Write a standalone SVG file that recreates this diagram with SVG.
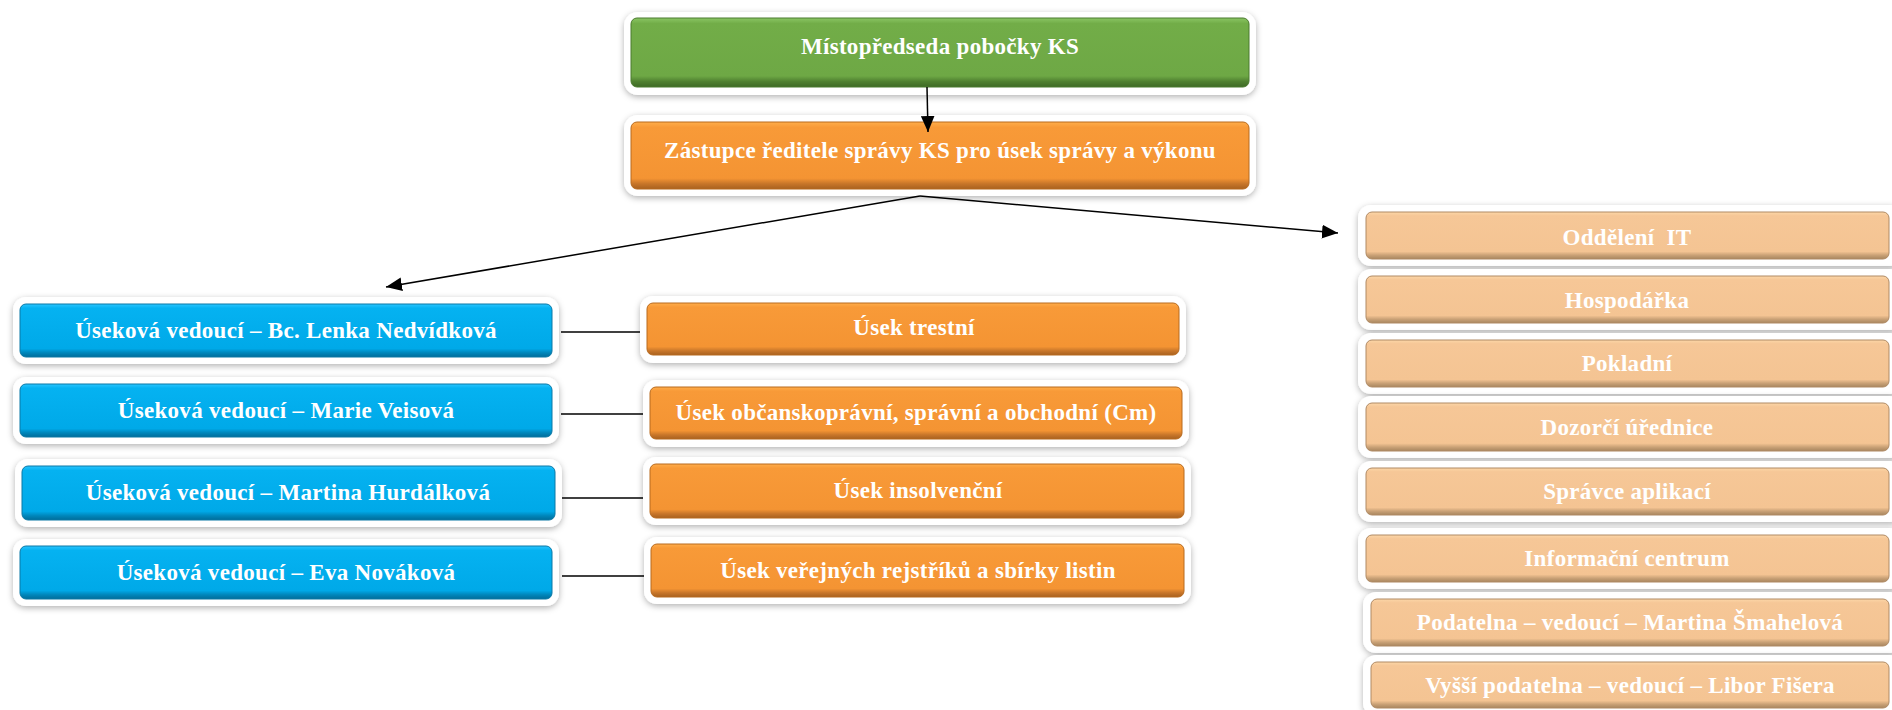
<svg xmlns="http://www.w3.org/2000/svg" width="1892" height="710" viewBox="0 0 1892 710">
<style>
text{font-family:"Liberation Serif","Times New Roman",serif;font-weight:bold;font-size:23px;fill:#ffffff;text-anchor:middle;letter-spacing:0.3px}
.frame{fill:#ffffff;filter:url(#sh)}
.g{fill:url(#gg);stroke:#4a7a2e;stroke-width:1}
.o{fill:url(#go);stroke:#b86a1e;stroke-width:1}
.b{fill:url(#gb);stroke:#0a78a6;stroke-width:1}
.l{fill:url(#gl);stroke:#b08a64;stroke-width:1}
.con{stroke:#000;stroke-width:1.5;fill:none}
</style>
<defs>
<filter id="sh" x="-10%" y="-30%" width="120%" height="170%">
<feDropShadow dx="0" dy="2" stdDeviation="3" flood-color="#000" flood-opacity="0.3"/>
</filter>
<linearGradient id="gg" x1="0" y1="0" x2="0" y2="1">
<stop offset="0" stop-color="#8ac564"/><stop offset="0.08" stop-color="#72ad48"/><stop offset="0.84" stop-color="#6ea845"/><stop offset="0.92" stop-color="#4f8030"/><stop offset="1" stop-color="#3e6a25"/>
</linearGradient>
<linearGradient id="go" x1="0" y1="0" x2="0" y2="1">
<stop offset="0" stop-color="#ffad4a"/><stop offset="0.08" stop-color="#f89a38"/><stop offset="0.84" stop-color="#f49433"/><stop offset="0.92" stop-color="#c8762a"/><stop offset="1" stop-color="#a8611f"/>
</linearGradient>
<linearGradient id="gb" x1="0" y1="0" x2="0" y2="1">
<stop offset="0" stop-color="#2ac5ff"/><stop offset="0.08" stop-color="#05b2f1"/><stop offset="0.84" stop-color="#00a9e8"/><stop offset="0.92" stop-color="#0086bb"/><stop offset="1" stop-color="#006d9a"/>
</linearGradient>
<linearGradient id="gl" x1="0" y1="0" x2="0" y2="1">
<stop offset="0" stop-color="#fcd7a8"/><stop offset="0.08" stop-color="#f6c797"/><stop offset="0.84" stop-color="#f4c493"/><stop offset="0.92" stop-color="#c9a176"/><stop offset="1" stop-color="#a8865f"/>
</linearGradient>
<marker id="arrL" viewBox="0 0 14 12" refX="14" refY="6" markerWidth="16" markerHeight="14" markerUnits="userSpaceOnUse" orient="auto">
<path d="M0,0 L14,6 L0,12 z" fill="#000"/>
</marker>
</defs>

<g id="n-mistopredseda">
<rect class="frame" x="624" y="12" width="632" height="83" rx="14"/>
<rect class="g" x="631" y="18" width="618" height="69" rx="6"/>
<text x="940" y="54">Místopředseda pobočky KS</text>
</g>
<g id="n-zastupce">
<rect class="frame" x="624" y="115" width="632" height="81" rx="14"/>
<rect class="o" x="631" y="122" width="618" height="67" rx="6"/>
<text x="940" y="158">Zástupce ředitele správy KS pro úsek správy a výkonu</text>
</g>

<g id="n-b1"><rect class="frame" x="13" y="297" width="546" height="67" rx="13"/><rect class="b" x="20" y="304" width="532" height="53" rx="6"/><text x="286" y="338">Úseková vedoucí – Bc. Lenka Nedvídková</text></g>
<g id="n-b2"><rect class="frame" x="13" y="377" width="546" height="67" rx="13"/><rect class="b" x="20" y="384" width="532" height="53" rx="6"/><text x="286" y="418">Úseková vedoucí – Marie Veisová</text></g>
<g id="n-b3"><rect class="frame" x="15" y="459" width="547" height="68" rx="13"/><rect class="b" x="22" y="466" width="533" height="54" rx="6"/><text x="288" y="500">Úseková vedoucí – Martina Hurdálková</text></g>
<g id="n-b4"><rect class="frame" x="13" y="539" width="546" height="67" rx="13"/><rect class="b" x="20" y="546" width="532" height="53" rx="6"/><text x="286" y="580">Úseková vedoucí – Eva Nováková</text></g>

<g id="n-o1"><rect class="frame" x="640" y="296" width="546" height="67" rx="13"/><rect class="o" x="647" y="303" width="532" height="52" rx="6"/><text x="914" y="335">Úsek trestní</text></g>
<g id="n-o2"><rect class="frame" x="643" y="380" width="546" height="67" rx="13"/><rect class="o" x="650" y="387" width="532" height="52" rx="6"/><text x="916" y="420">Úsek občanskoprávní, správní a obchodní (Cm)</text></g>
<g id="n-o3"><rect class="frame" x="643" y="457" width="548" height="68" rx="13"/><rect class="o" x="650" y="464" width="534" height="54" rx="6"/><text x="918" y="498">Úsek insolvenční</text></g>
<g id="n-o4"><rect class="frame" x="644" y="537" width="547" height="67" rx="13"/><rect class="o" x="651" y="544" width="533" height="53" rx="6"/><text x="918" y="578">Úsek veřejných rejstříků a sbírky listin</text></g>

<g id="n-r1"><rect class="frame" x="1358" y="205" width="545" height="61" rx="13"/><rect class="l" x="1366" y="212" width="523" height="47" rx="6"/><text x="1627" y="245">Oddělení&#160; IT</text></g>
<g id="n-r2"><rect class="frame" x="1358" y="269" width="545" height="61" rx="13"/><rect class="l" x="1366" y="276" width="523" height="47" rx="6"/><text x="1627" y="308">Hospodářka</text></g>
<g id="n-r3"><rect class="frame" x="1358" y="333" width="545" height="61" rx="13"/><rect class="l" x="1366" y="340" width="523" height="47" rx="6"/><text x="1627" y="371">Pokladní</text></g>
<g id="n-r4"><rect class="frame" x="1358" y="396" width="545" height="62" rx="13"/><rect class="l" x="1366" y="403" width="523" height="48" rx="6"/><text x="1627" y="435">Dozorčí úřednice</text></g>
<g id="n-r5"><rect class="frame" x="1358" y="461" width="545" height="61" rx="13"/><rect class="l" x="1366" y="468" width="523" height="47" rx="6"/><text x="1627" y="499">Správce aplikací</text></g>
<g id="n-r6"><rect class="frame" x="1358" y="528" width="545" height="61" rx="13"/><rect class="l" x="1366" y="535" width="523" height="47" rx="6"/><text x="1627" y="566">Informační centrum</text></g>
<g id="n-r7"><rect class="frame" x="1363" y="592" width="540" height="61" rx="13"/><rect class="l" x="1371" y="599" width="518" height="47" rx="6"/><text x="1630" y="630">Podatelna – vedoucí – Martina Šmahelová</text></g>
<g id="n-r8"><rect class="frame" x="1363" y="655" width="540" height="61" rx="13"/><rect class="l" x="1371" y="662" width="518" height="46" rx="6"/><text x="1630" y="693">Vyšší podatelna – vedoucí – Libor Fišera</text></g>

<g id="connectors">
<line class="con" x1="927" y1="87" x2="928" y2="132" marker-end="url(#arrL)"/>
<line class="con" x1="920" y1="196" x2="386" y2="287" marker-end="url(#arrL)"/>
<line class="con" x1="920" y1="196" x2="1338" y2="233" marker-end="url(#arrL)"/>
<line class="con" x1="561" y1="332" x2="640" y2="332"/>
<line class="con" x1="561" y1="414" x2="643" y2="414"/>
<line class="con" x1="562" y1="498" x2="643" y2="498"/>
<line class="con" x1="562" y1="576" x2="644" y2="576"/>
</g>
</svg>
